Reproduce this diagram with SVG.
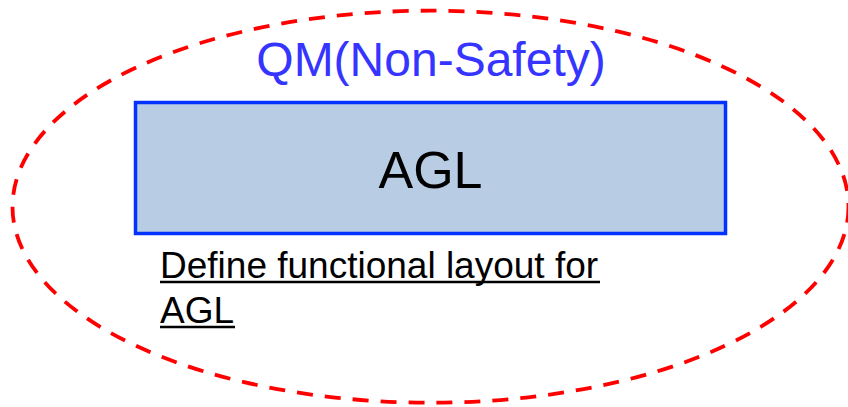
<svg xmlns="http://www.w3.org/2000/svg" width="848" height="407" viewBox="0 0 848 407">
<style>
.t{font-family:"Liberation Sans",Arial,sans-serif;}
.ul{stroke:#000;stroke-width:2.5;}
</style>
<rect width="848" height="407" fill="#fff"/>
<g id="boundary">
<ellipse cx="430.5" cy="206.7" rx="418" ry="196" fill="none" stroke="#ff0000" stroke-width="3.8" stroke-dasharray="16,12"/>
<text class="t" x="431" y="76" font-size="48" fill="#3535ff" text-anchor="middle">QM(Non-Safety)</text>
</g>
<g id="agl">
<rect x="135.5" y="102.5" width="590" height="131" fill="#b8cce4" stroke="#0033ff" stroke-width="3.5"/>
<text class="t" x="430.5" y="188" font-size="52" fill="#000" text-anchor="middle">AGL</text>
</g>
<g id="note">
<text class="t" x="160" y="278" font-size="37" fill="#000">Define functional layout for</text>
<text class="t" x="160" y="323" font-size="37" fill="#000">AGL</text>
<line class="ul" x1="160" y1="282" x2="600" y2="282"/>
<line class="ul" x1="160" y1="327" x2="235" y2="327"/>
</g>
<g id="connectors"></g>
</svg>
